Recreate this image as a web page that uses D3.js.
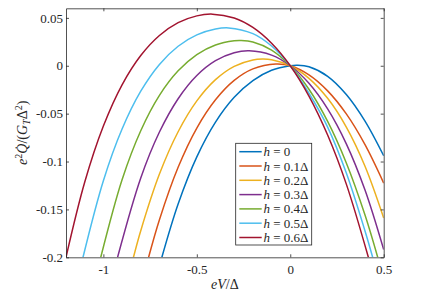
<!DOCTYPE html>
<html><head><meta charset="utf-8">
<script src="https://cdn.jsdelivr.net/npm/d3@7"></script>
<style>body{margin:0;background:#fff}svg{display:block}</style>
</head><body><svg id="c" width="436" height="294"></svg>
<script>
// ---- data ----
const hLabels = ["0", "0.1Δ", "0.2Δ", "0.3Δ", "0.4Δ", "0.5Δ", "0.6Δ"];
const seriesColors = ["#0072BD", "#D95319", "#EDB120", "#7E2F8E", "#77AC30", "#4DBEEE", "#A2142F"];
const xTickValues = [-1, -0.5, 0, 0.5];
const xTickLabels = ["-1", "-0.5", "0", "0.5"];
const yTickValues = [-0.2, -0.15, -0.1, -0.05, 0, 0.05];
const yTickLabels = ["-0.2", "-0.15", "-0.1", "-0.05", "0", "0.05"];

const h00 = [[-0.687,-0.2],[-0.6,-0.1444],[-0.5,-0.0952],[-0.4,-0.0589],[-0.3,-0.033],[-0.2,-0.0155],[-0.1,-0.0047],[0,0],[0.04,0.0005],[0.1,-0.0011],[0.2,-0.011],[0.3,-0.030],[0.4,-0.0578],[0.5,-0.094]];
const h01 = [[-0.758,-0.2],[-0.7,-0.1607],[-0.6,-0.106],[-0.5,-0.065],[-0.4,-0.0355],[-0.3,-0.0153],[-0.2,-0.0033],[-0.077,0.0018],[0,0],[0.1,-0.0095],[0.2,-0.0262],[0.3,-0.0503],[0.4,-0.0824],[0.5,-0.1225]];
const h02 = [[-0.839,-0.2],[-0.8,-0.1722],[-0.7,-0.1131],[-0.6,-0.0689],[-0.5,-0.0367],[-0.4,-0.0145],[-0.3,-0.0006],[-0.2,0.0061],[-0.148,0.007],[-0.1,0.0063],[0,0],[0.1,-0.0131],[0.2,-0.034],[0.3,-0.064],[0.4,-0.1049],[0.5,-0.159]];
const h03 = [[-0.924,-0.2],[-0.8,-0.1172],[-0.7,-0.0692],[-0.6,-0.0344],[-0.5,-0.0102],[-0.4,0.0053],[-0.3,0.0136],[-0.22,0.0156],[-0.1,0.0111],[0,0],[0.1,-0.0183],[0.2,-0.045],[0.3,-0.0815],[0.4,-0.1298],[0.5,-0.192]];
const h04 = [[-1.014,-0.2],[-0.9,-0.119],[-0.8,-0.0678],[-0.7,-0.0309],[-0.6,-0.0053],[-0.5,0.0117],[-0.4,0.0217],[-0.3,0.0261],[-0.264,0.0264],[-0.2,0.0249],[-0.1,0.0164],[0,0],[0.1,-0.0245],[0.2,-0.0581],[0.3,-0.1015],[0.4,-0.1559],[0.468,-0.2]];
const h05 = [[-1.109,-0.2],[-1.0,-0.1201],[-0.9,-0.0661],[-0.8,-0.0266],[-0.7,0.0014],[-0.6,0.0204],[-0.5,0.0322],[-0.4,0.0383],[-0.33,0.0395],[-0.2,0.0335],[-0.1,0.0206],[0,0],[0.1,-0.0287],[0.2,-0.064],[0.3,-0.112],[0.4,-0.1725],[0.441,-0.2]];
const h06 = [[-1.2,-0.2],[-1.1,-0.1217],[-1.0,-0.063],[-0.9,-0.0199],[-0.8,0.0107],[-0.7,0.0316],[-0.6,0.045],[-0.5,0.0521],[-0.416,0.0539],[-0.3,0.0499],[-0.2,0.04],[-0.1,0.0235],[0,0],[0.1,-0.0316],[0.2,-0.0723],[0.3,-0.1236],[0.418,-0.2]];
const allSeries = [h00, h01, h02, h03, h04, h05, h06];

// ---- layout ----
const L = 66, T = 8.3, R = 383.7, B = 257.3;
const axisColor = "#262626";
const fontFam = "'Liberation Serif','Times New Roman',serif";

const svg = d3.select("#c");
const x = d3.scaleLinear().domain([-1.2, 0.5]).range([L, R]);
const y = d3.scaleLinear().domain([-0.2, 0.06]).range([B, T]);

svg.append("defs").append("clipPath").attr("id", "clip")
  .append("rect").attr("x", L).attr("y", T).attr("width", R - L).attr("height", B - T);

const line = d3.line().x(d => x(d[0])).y(d => y(d[1])).curve(d3.curveCatmullRom.alpha(0.5));
const g = svg.append("g").attr("clip-path", "url(#clip)");
allSeries.forEach((s, i) => {
  g.append("path").datum(s).attr("d", line)
    .attr("fill", "none").attr("stroke", seriesColors[i]).attr("stroke-width", 1.5);
});

function styleAxis(sel) {
  sel.selectAll("path.domain").attr("stroke", axisColor).attr("stroke-width", 0.8);
  sel.selectAll(".tick line").attr("stroke", axisColor).attr("stroke-width", 0.8);
  sel.selectAll("text").attr("fill", axisColor).attr("font-family", fontFam).attr("font-size", 13);
}
const xb = svg.append("g").attr("transform", `translate(0,${B})`)
  .call(d3.axisBottom(x).tickValues(xTickValues).tickFormat((d, i) => xTickLabels[i]).tickSize(-3).tickSizeOuter(0).tickPadding(7));
styleAxis(xb);
const xt = svg.append("g").attr("transform", `translate(0,${T})`)
  .call(d3.axisTop(x).tickValues(xTickValues).tickFormat("").tickSize(-3).tickSizeOuter(0));
styleAxis(xt);
const yl = svg.append("g").attr("transform", `translate(${L},0)`)
  .call(d3.axisLeft(y).tickValues(yTickValues).tickFormat((d, i) => yTickLabels[i]).tickSize(-3).tickSizeOuter(0).tickPadding(3));
styleAxis(yl);
const yr = svg.append("g").attr("transform", `translate(${R},0)`)
  .call(d3.axisRight(y).tickValues(yTickValues).tickFormat("").tickSize(-3).tickSizeOuter(0));
styleAxis(yr);

// axis titles
const xt2 = svg.append("text").attr("x", (L + R) / 2).attr("y", 289).attr("text-anchor", "middle")
  .attr("font-family", fontFam).attr("font-size", 14).attr("fill", axisColor);
xt2.append("tspan").attr("font-style", "italic").text("eV");
xt2.append("tspan").text("/Δ");

const yt = svg.append("text").attr("transform", `translate(27,${(T + B) / 2}) rotate(-90)`)
  .attr("text-anchor", "middle").attr("font-family", fontFam).attr("font-size", 14).attr("fill", axisColor);
yt.append("tspan").attr("font-style", "italic").text("e");
yt.append("tspan").attr("font-size", 10).attr("dy", -5).text("2");
yt.append("tspan").attr("font-style", "italic").attr("dy", 5).text("Q\u0307");
yt.append("tspan").text("/(");
yt.append("tspan").attr("font-style", "italic").text("G");
yt.append("tspan").attr("font-style", "italic").attr("font-size", 10).attr("dy", 3).text("T");
yt.append("tspan").attr("dy", -3).text("Δ");
yt.append("tspan").attr("font-size", 10).attr("dy", -5).text("2");
yt.append("tspan").attr("dy", 5).text(")");

// legend
const lg = svg.append("g");
lg.append("rect").attr("x", 235.7).attr("y", 143.3).attr("width", 76).attr("height", 101.7)
  .attr("fill", "#fff").attr("stroke", axisColor).attr("stroke-width", 0.8);
hLabels.forEach((lab, i) => {
  const yy = 151.7 + i * 14.3;
  lg.append("line").attr("x1", 239.3).attr("x2", 261.7).attr("y1", yy).attr("y2", yy)
    .attr("stroke", seriesColors[i]).attr("stroke-width", 1.5);
  const t = lg.append("text").attr("x", 263.5).attr("y", yy + 4.5)
    .attr("font-family", fontFam).attr("font-size", 13).attr("fill", axisColor);
  t.append("tspan").attr("font-style", "italic").text("h");
  t.append("tspan").text(" = " + lab);
});
</script></body></html>
